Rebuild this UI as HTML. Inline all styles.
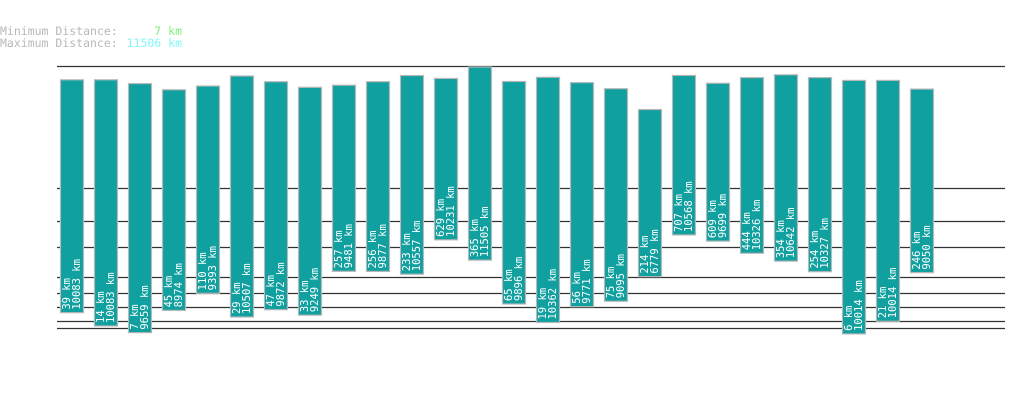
<!DOCTYPE html>
<html><head><meta charset="utf-8"><style>
body{margin:0;background:#fff;width:1019px;height:402px;overflow:hidden}
svg{display:block}
text{font-family:"DejaVu Sans Mono","Liberation Mono",monospace}
</style></head><body>
<svg id="chart" width="1019" height="402" xmlns="http://www.w3.org/2000/svg">
<text x="0" y="35" font-size="11.5" fill="#b8b8b8">Minimum Distance:</text>
<text x="182" y="35" font-size="11.5" fill="#80f080" text-anchor="end">7 km</text>
<text x="0" y="47" font-size="11.5" fill="#b8b8b8">Maximum Distance:</text>
<text x="182" y="47" font-size="11.5" fill="#80f8f8" text-anchor="end">11506 km</text>
<g id="grid"></g>
<g id="bars"></g>
</svg>
<script>
const minDist=[39,14,7,45,110,29,47,33,257,256,233,629,365,65,19,56,75,214,707,609,444,354,254,6,21,246];
const maxDist=[10083,10083,9659,8974,9393,10507,9872,9249,9481,9877,10557,10231,11505,9896,10362,9771,9095,6779,10568,9699,10326,10642,10327,10014,10014,9050];
const gridY=[66,188,221,247,277,293,307,321,328];
const NS="http://www.w3.org/2000/svg";
function yTop(v){return 67+(11505-v)*0.009;}
function yBot(v){return 356.9-12.27*Math.pow(v,0.35);}
function xBar(i){return 60+i*34;}
const g=document.getElementById('grid');
gridY.forEach(y=>{const l=document.createElementNS(NS,'line');


l.setAttribute('x1',57);l.setAttribute('x2',1005);l.setAttribute('y1',y+0.5);l.setAttribute('y2',y+0.5);
l.setAttribute('stroke','#333');l.setAttribute('stroke-width',1.3);g.appendChild(l);});
const b=document.getElementById('bars');
minDist.forEach((mn,i)=>{const mx=maxDist[i];const x=xBar(i);const t=yTop(mx),bt=yBot(mn);
const r=document.createElementNS(NS,'rect');


r.setAttribute('x',x+0.5);r.setAttribute('y',t);r.setAttribute('width',23);r.setAttribute('height',bt-t);
r.setAttribute('fill','#10a0a0');r.setAttribute('stroke','#b8b8b8');r.setAttribute('stroke-width',1.2);b.appendChild(r);
const tx=document.createElementNS(NS,'text');


tx.setAttribute('transform','translate('+(x+10)+','+(bt-3)+') rotate(-90)');
tx.setAttribute('font-size','10.5');tx.setAttribute('fill','#fff');
const a=document.createElementNS(NS,'tspan');a.setAttribute('x',0);a.setAttribute('y',0);a.textContent=mn+' km';
const c=document.createElementNS(NS,'tspan');c.setAttribute('x',0);c.setAttribute('y',10);c.textContent=mx+' km';
tx.appendChild(a);tx.appendChild(c);b.appendChild(tx);});
</script>
</body></html>
